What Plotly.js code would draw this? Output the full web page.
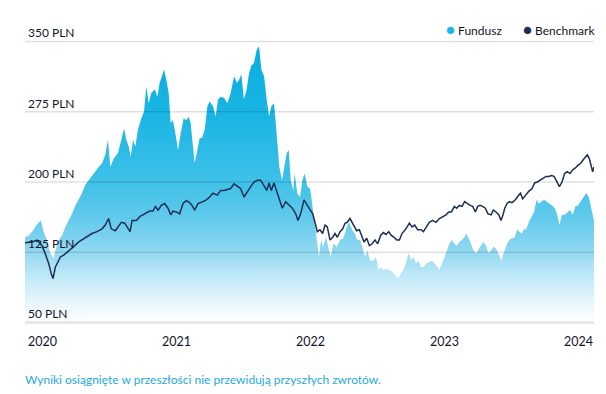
<!DOCTYPE html>
<html>
<head>
<meta charset="utf-8">
<script src="https://cdn.plot.ly/plotly-3.0.1.min.js"></script>
<style>html,body{margin:0;padding:0;background:#fff;}#chart{width:606px;height:394px;}</style>
</head>
<body>
<div id="chart"></div>
<script>
// Fund (area) – decimal years and values in PLN
const fundYears = [2020.000,2020.027,2020.052,2020.090,2020.119,2020.139,2020.164,2020.189,2020.214,2020.226,2020.251,2020.276,2020.301,2020.326,2020.351,2020.376,2020.401,2020.425,2020.450,2020.475,2020.500,2020.525,2020.550,2020.575,2020.599,2020.619,2020.637,2020.662,2020.694,2020.719,2020.739,2020.756,2020.774,2020.789,2020.806,2020.823,2020.843,2020.868,2020.888,2020.905,2020.923,2020.943,2020.968,2020.988,2021.005,2021.022,2021.037,2021.055,2021.072,2021.087,2021.104,2021.122,2021.142,2021.162,2021.184,2021.204,2021.221,2021.236,2021.251,2021.266,2021.286,2021.303,2021.321,2021.341,2021.361,2021.378,2021.403,2021.423,2021.440,2021.460,2021.485,2021.510,2021.535,2021.560,2021.580,2021.597,2021.614,2021.634,2021.654,2021.672,2021.689,2021.709,2021.729,2021.746,2021.764,2021.784,2021.801,2021.821,2021.838,2021.858,2021.871,2021.883,2021.898,2021.918,2021.933,2021.953,2021.968,2021.983,2022.002,2022.012,2022.032,2022.052,2022.070,2022.087,2022.107,2022.127,2022.139,2022.157,2022.177,2022.194,2022.209,2022.226,2022.246,2022.264,2022.281,2022.301,2022.326,2022.351,2022.376,2022.401,2022.420,2022.440,2022.460,2022.480,2022.500,2022.520,2022.537,2022.555,2022.575,2022.600,2022.619,2022.637,2022.654,2022.674,2022.699,2022.724,2022.749,2022.769,2022.786,2022.804,2022.823,2022.843,2022.863,2022.881,2022.898,2022.918,2022.938,2022.955,2022.973,2022.993,2023.017,2023.037,2023.057,2023.080,2023.092,2023.112,2023.129,2023.147,2023.167,2023.187,2023.204,2023.221,2023.241,2023.261,2023.279,2023.291,2023.311,2023.328,2023.346,2023.366,2023.386,2023.403,2023.420,2023.440,2023.460,2023.478,2023.495,2023.515,2023.535,2023.555,2023.567,2023.580,2023.597,2023.614,2023.634,2023.654,2023.672,2023.689,2023.709,2023.724,2023.739,2023.759,2023.779,2023.799,2023.818,2023.833,2023.853,2023.873,2023.893,2023.913,2023.933,2023.953,2023.970,2023.988,2024.007,2024.027,2024.047,2024.067,2024.087,2024.107,2024.127,2024.147,2024.167,2024.187,2024.207,2024.221,2024.231,2024.246];
const fundValues = [141,143,147,155,159,147,138,124,118,127,138,143,152,159,166,175,181,188,197,202,207,211,216,220,229,245,216,225,231,245,257,245,238,227,245,238,256,268,275,302,284,295,299,291,306,313,320,309,295,263,266,252,234,252,268,266,270,263,238,220,234,247,247,256,281,286,281,270,288,291,290,284,295,313,306,309,315,288,299,316,324,327,341,345,320,313,291,270,281,284,263,238,216,202,216,231,234,202,191,209,188,184,202,209,195,193,181,159,138,120,138,131,141,131,120,134,131,138,140,152,157,149,145,138,138,129,120,127,116,116,120,106,109,106,107,106,102,100,97,102,106,114,124,116,120,113,116,109,109,113,115,116,113,109,106,113,120,127,134,138,134,132,136,138,141,145,140,134,127,124,129,132,136,132,124,127,131,129,122,116,122,127,134,138,140,141,149,147,145,150,149,157,163,168,181,177,179,181,179,177,175,172,166,154,165,165,168,170,165,174,175,179,184,188,184,174,166,159];

// Benchmark (line)
const benchYears = [2020.000,2020.052,2020.090,2020.127,2020.152,2020.177,2020.196,2020.209,2020.226,2020.246,2020.264,2020.289,2020.326,2020.363,2020.401,2020.425,2020.463,2020.500,2020.537,2020.575,2020.599,2020.624,2020.644,2020.674,2020.694,2020.719,2020.744,2020.769,2020.784,2020.799,2020.831,2020.856,2020.893,2020.930,2020.955,2020.973,2020.993,2021.017,2021.042,2021.067,2021.087,2021.104,2021.129,2021.154,2021.179,2021.204,2021.229,2021.246,2021.266,2021.291,2021.328,2021.353,2021.378,2021.403,2021.435,2021.460,2021.485,2021.510,2021.535,2021.560,2021.585,2021.609,2021.634,2021.659,2021.684,2021.709,2021.734,2021.759,2021.784,2021.804,2021.821,2021.838,2021.858,2021.878,2021.896,2021.920,2021.945,2021.970,2021.995,2022.020,2022.037,2022.057,2022.082,2022.107,2022.127,2022.147,2022.164,2022.181,2022.201,2022.221,2022.239,2022.256,2022.276,2022.296,2022.313,2022.331,2022.351,2022.371,2022.388,2022.405,2022.425,2022.440,2022.458,2022.475,2022.495,2022.512,2022.530,2022.550,2022.570,2022.590,2022.612,2022.632,2022.654,2022.674,2022.694,2022.714,2022.734,2022.754,2022.774,2022.794,2022.813,2022.843,2022.868,2022.888,2022.908,2022.930,2022.955,2022.973,2022.993,2023.017,2023.042,2023.067,2023.092,2023.117,2023.142,2023.162,2023.182,2023.204,2023.221,2023.241,2023.261,2023.281,2023.301,2023.321,2023.341,2023.361,2023.378,2023.396,2023.415,2023.435,2023.455,2023.478,2023.495,2023.515,2023.535,2023.552,2023.567,2023.580,2023.597,2023.614,2023.634,2023.659,2023.679,2023.697,2023.714,2023.734,2023.759,2023.784,2023.803,2023.823,2023.846,2023.868,2023.888,2023.908,2023.928,2023.948,2023.970,2023.988,2024.007,2024.027,2024.047,2024.067,2024.087,2024.107,2024.127,2024.147,2024.167,2024.181,2024.196,2024.211,2024.226,2024.236,2024.246];
const benchValues = [135,136,138,132,123,113,102,97,109,114,120,122,127,131,136,138,141,145,147,150,154,161,150,148,152,157,156,150,147,159,159,163,166,169,169,174,170,175,177,172,165,169,168,166,177,180,178,175,170,177,179,181,184,188,186,191,191,192,193,198,195,193,184,190,195,200,202,202,195,191,199,191,199,190,184,172,179,175,172,166,159,166,181,175,171,166,157,147,149,145,154,152,138,141,145,141,147,150,156,157,161,157,152,148,149,143,136,140,132,134,138,134,143,146,144,147,143,141,138,138,145,150,156,152,154,149,149,147,152,157,159,157,161,163,165,168,168,174,172,175,174,179,177,175,174,168,174,175,174,172,166,165,170,168,165,159,165,172,177,179,178,181,185,188,182,186,190,193,199,200,202,204,206,206,207,206,200,195,200,209,211,209,213,215,218,220,224,227,229,225,215,211,216];

// Axis ticks and labels
const yTickVals = [50, 125, 200, 275, 350];
const yTickText = ['50 PLN', '125 PLN', '200 PLN', '275 PLN', '350 PLN'];
const xTickVals = [2020, 2021, 2022, 2023, 2024];
const xTickText = ['2020', '2021', '2022', '2023', '2024'];
const seriesNames = ['Fundusz', 'Benchmark'];
const footnote = 'Wyniki osiągnięte w przeszłości nie przewidują przyszłych zwrotów.';

const FONT = 'Lato, "Noto Sans", sans-serif';
const TEXT = '#14142a';
const FUND_COLOR = '#1fb4e4';
const BENCH_COLOR = '#1c2f57';

const traces = [
  {
    x: fundYears, y: fundValues, type: 'scatter', mode: 'lines', name: seriesNames[0],
    line: {width: 0, color: FUND_COLOR}, fill: 'tozeroy',
    fillgradient: {
      type: 'vertical', start: 50, stop: 350,
      colorscale: [[0, '#ffffff'], [0.08, '#e4f5fc'], [0.17, '#bde8f7'], [0.25, '#92d8f1'],
                   [0.37, '#62caec'], [0.5, '#3ec1e8'], [0.75, '#19b4e3'], [1, '#07ace0']]
    },
    hoverinfo: 'skip', showlegend: false
  },
  {
    x: benchYears, y: benchValues, type: 'scatter', mode: 'lines', name: seriesNames[1],
    line: {width: 1.5, color: BENCH_COLOR}, hoverinfo: 'skip', showlegend: false
  }
];

const shapes = yTickVals.map((v, i) => ({
  type: 'line', xref: 'paper', x0: 0, x1: 1, yref: 'y', y0: v, y1: v, layer: 'above',
  line: {color: i === 0 ? 'rgba(0,0,0,0.09)' : 'rgba(0,0,0,0.12)', width: i === 0 ? 3 : 1.5}
}));

const dot = c => '<span style="color:' + c + ';font-size:15px">●</span> ';
const annotations = [
  {xref: 'paper', yref: 'paper', x: 0.737, y: 1.038, xanchor: 'left', yanchor: 'middle', showarrow: false,
   text: dot(FUND_COLOR) + seriesNames[0], font: {family: FONT, size: 12, color: TEXT}},
  {xref: 'paper', yref: 'paper', x: 0.871, y: 1.038, xanchor: 'left', yanchor: 'middle', showarrow: false,
   text: dot(BENCH_COLOR) + seriesNames[1], font: {family: FONT, size: 12, color: TEXT}},
  {xref: 'paper', yref: 'paper', x: -0.004, y: -0.197, xanchor: 'left', yanchor: 'middle', showarrow: false,
   text: footnote, font: {family: FONT, size: 12, color: '#1fa9df'}}
];

const layout = {
  width: 606, height: 394,
  margin: {l: 25, r: 12, t: 40, b: 70},
  paper_bgcolor: '#ffffff', plot_bgcolor: '#ffffff',
  showlegend: false,
  font: {family: FONT, size: 12, color: TEXT},
  xaxis: {
    range: [2020, 2024.246], tickvals: xTickVals, ticktext: xTickText,
    showgrid: false, zeroline: false, showline: false, ticks: '',
    ticklabelposition: 'outside right', ticklabelstandoff: 8, ticklabeloverflow: 'allow',
    ticklabelshift: 3,
    tickfont: {family: FONT, size: 12.5, color: TEXT}, fixedrange: true
  },
  yaxis: {
    range: [48.4, 351.6], tickvals: yTickVals, ticktext: yTickText,
    showgrid: false, zeroline: false, showline: false, ticks: '',
    ticklabelposition: 'inside top', layer: 'above traces', ticklabeloverflow: 'allow',
    tickfont: {family: FONT, size: 12, color: TEXT}, fixedrange: true
  },
  shapes: shapes,
  annotations: annotations
};

Plotly.newPlot('chart', traces, layout, {displayModeBar: false, staticPlot: true});
</script>
</body>
</html>
